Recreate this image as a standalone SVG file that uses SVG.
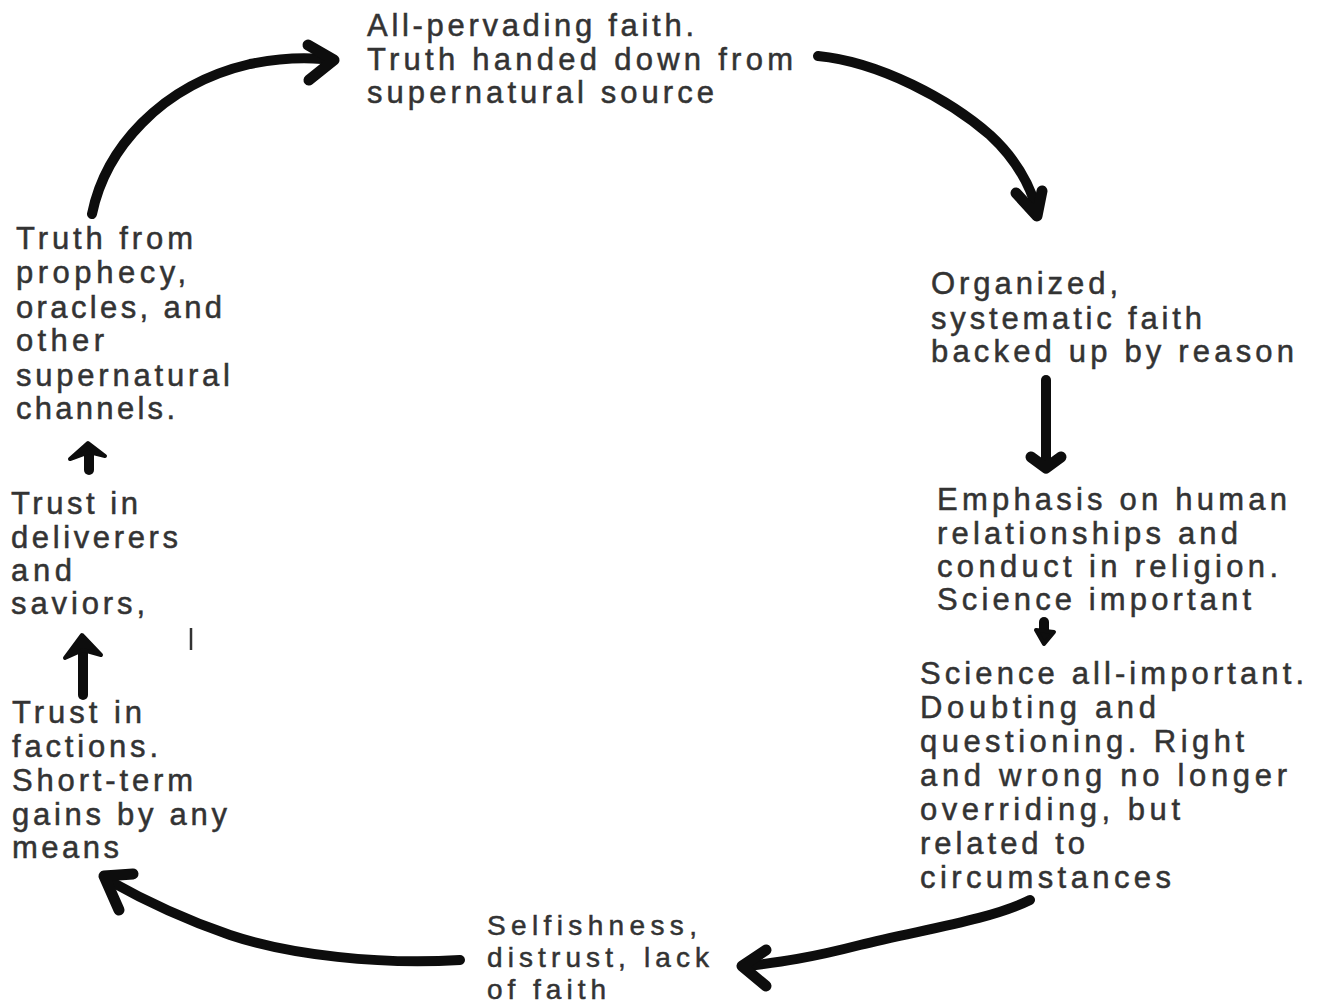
<svg xmlns="http://www.w3.org/2000/svg" width="1317" height="1006" viewBox="0 0 1317 1006">
<style>
text { font-family: "Liberation Sans", Arial, sans-serif; font-size: 31px; fill: #333; stroke: #333; stroke-width: 0.5; }
.small text { font-size: 28px; }
.arr { fill: none; stroke: #0d0d0d; stroke-width: 10; stroke-linecap: round; stroke-linejoin: round; }
.chev { fill: none; stroke: #0d0d0d; stroke-width: 11; stroke-linecap: round; stroke-linejoin: round; }
.head { fill: #0d0d0d; stroke: #0d0d0d; stroke-width: 4; stroke-linejoin: round; }
</style>
<rect width="1317" height="1006" fill="#ffffff"/>

<g id="node-allpervading">
<text x="367" y="36" textLength="327" lengthAdjust="spacing">All-pervading faith.</text>
<text x="367" y="70" textLength="426" lengthAdjust="spacing">Truth handed down from</text>
<text x="367" y="103" textLength="347" lengthAdjust="spacing">supernatural source</text>
</g>

<g id="node-organized">
<text x="931" y="294" textLength="187" lengthAdjust="spacing">Organized,</text>
<text x="931" y="329" textLength="271" lengthAdjust="spacing">systematic faith</text>
<text x="931" y="362" textLength="363" lengthAdjust="spacing">backed up by reason</text>
</g>

<g id="node-emphasis">
<text x="937" y="510" textLength="350" lengthAdjust="spacing">Emphasis on human</text>
<text x="937" y="544" textLength="301" lengthAdjust="spacing">relationships and</text>
<text x="937" y="577" textLength="341" lengthAdjust="spacing">conduct in religion.</text>
<text x="937" y="610" textLength="314" lengthAdjust="spacing">Science important</text>
</g>

<g id="node-science">
<text x="920" y="684" textLength="384" lengthAdjust="spacing">Science all-important.</text>
<text x="920" y="718" textLength="236" lengthAdjust="spacing">Doubting and</text>
<text x="920" y="752" textLength="324" lengthAdjust="spacing">questioning. Right</text>
<text x="920" y="786" textLength="367" lengthAdjust="spacing">and wrong no longer</text>
<text x="920" y="820" textLength="260" lengthAdjust="spacing">overriding, but</text>
<text x="920" y="854" textLength="165" lengthAdjust="spacing">related to</text>
<text x="920" y="888" textLength="251" lengthAdjust="spacing">circumstances</text>
</g>

<g id="node-selfishness" class="small">
<text x="487" y="935" textLength="210" lengthAdjust="spacing">Selfishness,</text>
<text x="487" y="967" textLength="222" lengthAdjust="spacing">distrust, lack</text>
<text x="487" y="999" textLength="119" lengthAdjust="spacing">of faith</text>
</g>

<g id="node-factions">
<text x="12" y="723" textLength="130" lengthAdjust="spacing">Trust in</text>
<text x="12" y="757" textLength="146" lengthAdjust="spacing">factions.</text>
<text x="12" y="791" textLength="181" lengthAdjust="spacing">Short-term</text>
<text x="12" y="825" textLength="215" lengthAdjust="spacing">gains by any</text>
<text x="12" y="858" textLength="107" lengthAdjust="spacing">means</text>
</g>

<g id="node-deliverers">
<text x="11" y="514" textLength="127" lengthAdjust="spacing">Trust in</text>
<text x="11" y="548" textLength="167" lengthAdjust="spacing">deliverers</text>
<text x="11" y="581" textLength="61" lengthAdjust="spacing">and</text>
<text x="11" y="614" textLength="134" lengthAdjust="spacing">saviors,</text>
</g>

<g id="node-prophecy">
<text x="16" y="249" textLength="177" lengthAdjust="spacing">Truth from</text>
<text x="16" y="283" textLength="170" lengthAdjust="spacing">prophecy,</text>
<text x="16" y="318" textLength="206" lengthAdjust="spacing">oracles, and</text>
<text x="16" y="351" textLength="88" lengthAdjust="spacing">other</text>
<text x="16" y="386" textLength="214" lengthAdjust="spacing">supernatural</text>
<text x="16" y="419" textLength="159" lengthAdjust="spacing">channels.</text>
</g>

<g id="connectors">
<!-- prophecy -> all-pervading -->
<path class="arr" d="M92,214 C105,150 160,85 250,64 C280,58 300,57 322,59"/>
<path class="chev" d="M308,45 L334,60 L309,80"/>
<!-- all-pervading -> organized -->
<path class="arr" d="M818,56 C880,62 950,100 990,135 C1015,158 1030,185 1037,210" stroke-width="9"/>
<path class="chev" d="M1016,193 L1037,216 L1042,191" stroke-width="10"/>
<!-- organized -> emphasis -->
<path class="arr" d="M1046,380 L1046,463" stroke-width="9"/>
<path class="chev" d="M1031,457 L1046,468 L1061,457" stroke-width="9"/>
<!-- emphasis -> science -->
<path class="arr" d="M1044,622 L1044,636" stroke-width="8"/>
<path class="head" d="M1036,630 L1044,644 L1054,632 Z"/>
<!-- science -> selfishness -->
<path class="arr" d="M1030,900 C990,920 920,930 860,945 C810,958 780,962 748,966" stroke-width="9"/>
<path class="chev" d="M766,950 L742,966 L766,986" stroke-width="10"/>
<!-- selfishness -> factions -->
<path class="arr" d="M460,960 C380,965 290,955 230,935 C180,918 140,898 108,880" stroke-width="10"/>
<path class="chev" d="M133,874 L104,876 L119,910" stroke-width="11"/>
<!-- factions -> deliverers -->
<path class="arr" d="M83,695 L83,650" stroke-width="11"/>
<path class="head" d="M65,658 L82,635 L101,655 L83,650 Z"/>
<!-- deliverers -> prophecy -->
<path class="arr" d="M89,470 L89,452" stroke-width="9"/>
<path class="head" d="M70,459 L88,443 L105,456 L89,452 Z"/>
</g>
<path d="M191,628 L191,650" stroke="#333" stroke-width="2.5" fill="none"/>
</svg>
